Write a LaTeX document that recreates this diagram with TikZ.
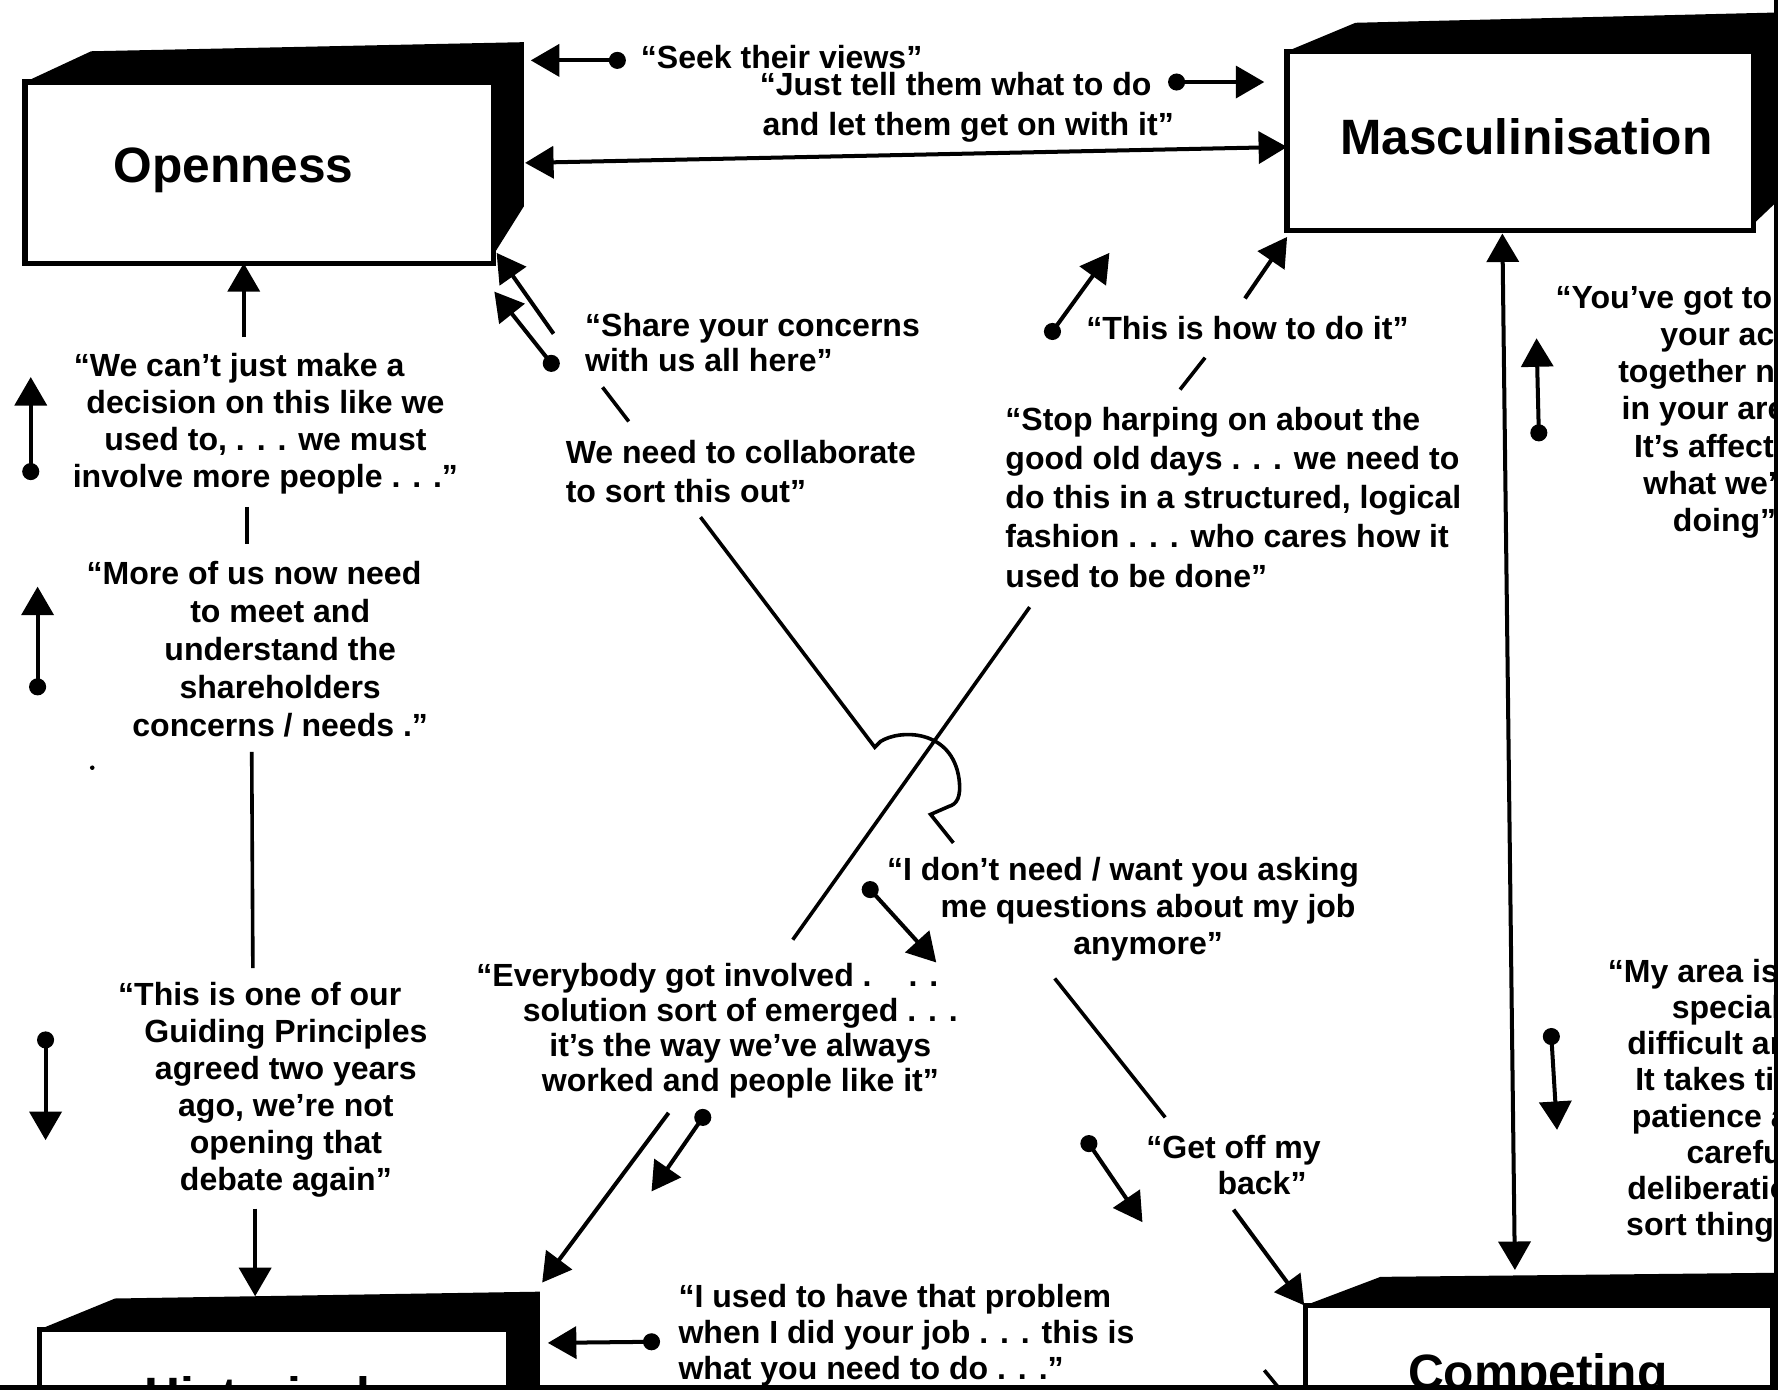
\documentclass[tikz,border=0pt]{standalone}
\usepackage{fontspec}
\setmainfont{Liberation Sans}
\usetikzlibrary{arrows.meta}
\newcommand\qf[1]{\fontsize{8}{#1}\selectfont\bfseries}
\newcommand\tf{\fontsize{12.4}{14}\selectfont\bfseries}
\newcommand\sh[1]{\hspace*{#1}}
\begin{document}
\begin{tikzpicture}[x=0.01cm,y=-0.01cm,
  face/.style={draw, line width=1.3pt, fill=white, inner sep=0pt},
  qc/.style={inner sep=0pt, align=center},
  qlt/.style={inner sep=0pt, align=left, anchor=west},
  ttl/.style={inner sep=0pt, font=\tf, anchor=base},
  ln/.style={line width=0.9pt},
  arr/.style={line width=1pt, -{Triangle[length=0.25cm,width=0.28cm]}},
  barr/.style={line width=1pt, {Triangle[length=0.25cm,width=0.28cm]}-{Triangle[length=0.25cm,width=0.28cm]}},
  framel/.style={line width=1.1pt}
]
\newcommand\dotarr[2]{\draw[arr] (#1) -- (#2); \fill (#1) circle[radius=0.075cm];}
\useasboundingbox (0,0) rectangle (1568,1220);
\begin{scope}
\clip (0,0) rectangle (1559,1218);
% ---- boxes
\fill (22,72) -- (80,45) -- (460,37) -- (460,181) -- (433,224) -- (433,72) -- cycle;
\node[face, minimum width=4.11cm, minimum height=1.59cm] (open) at (227.5,151.5) {};
\node[ttl] (openT) at (205,160) {Openness};
\fill (1130,45) -- (1190,20) -- (1600,10) -- (1600,139) -- (1539,197) -- (1539,45) -- cycle;
\node[face, minimum width=4.09cm, minimum height=1.57cm] (masc) at (1334.5,123.5) {};
\node[ttl] (mascT) at (1340,136) {Masculinisation};
\fill (35,1167) -- (101,1140) -- (474,1134) -- (474,1300) -- (446,1330) -- (446,1167) -- cycle;
\node[face, minimum width=4.11cm, minimum height=1.70cm] (hist) at (240.5,1252) {};
\node[ttl] (histT) at (226,1240) {Historical};
\fill (1146,1146) -- (1212,1121) -- (1600,1117) -- (1600,1300) -- (1556,1330) -- (1556,1146) -- cycle;
\node[face, minimum width=4.10cm, minimum height=1.84cm] (comp) at (1351,1238) {};
\node[ttl] (compT) at (1350,1220) {Competing};
% ---- texts
\node[qlt, font=\qf{9pt}] (seek) at (562,50) {“Seek their views”};
\node[qc, font=\qf{10pt}] (tell) at (850,94.5) {\sh{-0.22cm}“Just tell them what to do\\and let them get on with it”};
\node[qc, font=\qf{9.3pt}] (cant) at (233,372) {\sh{-0.46cm}“We can’t just make a\\decision on this like we\\used to, . . . we must\\involve more people . . .”};
\node[qc, font=\qf{9.5pt}] (more) at (246,570) {\sh{-0.46cm}“More of us now need\\to meet and\\understand the\\shareholders\\concerns / needs .”};
\node[qc, font=\qf{9.25pt}] (guide) at (251,957) {\sh{-0.46cm}“This is one of our\\Guiding Principles\\agreed two years\\ago, we’re not\\opening that\\debate again”};
\node[qlt, font=\qf{8.8pt}] (share) at (513,300.5) {“Share your concerns\\with us all here”};
\node[qlt, font=\qf{9.67pt}] (collab) at (496,414) {We need to collaborate\\to sort this out”};
\node[qlt, font=\qf{9pt}] (how) at (953,288) {“This is how to do it”};
\node[qlt, font=\qf{9.8pt}] (stop) at (882,436.5) {“Stop harping on about the\\good old days . . . we need to\\do this in a structured, logical\\fashion . . . who cares how it\\used to be done”};
\node[qc, font=\qf{9.25pt}] (idont) at (1008,798.5) {\sh{-0.44cm}“I don’t need / want you asking\\me questions about my job\\anymore”};
\node[qc, font=\qf{9.1pt}] (getoff) at (1108,1023) {\sh{-0.5cm}“Get off my\\back”};
\node[qc, font=\qf{8.7pt}] (every) at (650,905) {\sh{-0.58cm}“Everybody got involved .\hspace{0.22cm} . .\\solution sort of emerged . . .\\it’s the way we’ve always\\worked and people like it”};
\node[qlt, font=\qf{9pt}] (used) at (595,1172.5) {“I used to have that problem\\when I did your job . . . this is\\what you need to do . . .”};
\node[qlt, font=\qf{9.3pt}] (youve) at (1365,362) {“You’ve got to get\\\sh{0.92cm}your act\\\sh{0.55cm}together now\\\sh{0.58cm}in your area.\\\sh{0.69cm}It’s affecting\\\sh{0.77cm}what we’re\\\sh{1.03cm}doing”};
\node[qlt, font=\qf{9.05pt}] (myarea) at (1411,966.5) {“My area is\\\sh{0.56cm}special,\\\sh{0.17cm}difficult and\\\sh{0.24cm}It takes time,\\\sh{0.21cm}patience and\\\sh{0.69cm}careful\\\sh{0.17cm}deliberation to\\\sh{0.16cm}sort things out”};
% ---- coordinates
\coordinate (seekD) at (542,53); \coordinate (seekT) at (466,53);
\coordinate (tellD) at (1033,72); \coordinate (tellT) at (1110,72);
\coordinate (bigL) at (461,143); \coordinate (bigR) at (1130,129);
\coordinate (cantTop) at (214,296); \coordinate (openBot) at (214,231);
\coordinate (l1D) at (27,414); \coordinate (l1T) at (27,331);
\coordinate (l2D) at (33,603); \coordinate (l2T) at (33,515);
\coordinate (l3D) at (40,913); \coordinate (l3T) at (40,1001);
\coordinate (c1a) at (217,445); \coordinate (c1b) at (217,478);
\coordinate (c2a) at (221,660); \coordinate (c2b) at (222,850);
\coordinate (guideBot) at (224,1061); \coordinate (histTop) at (224,1138);
\coordinate (sh1S) at (486,293); \coordinate (sh1T) at (436,222);
\coordinate (sh2D) at (484,319); \coordinate (sh2T) at (434,256);
\coordinate (sh3a) at (529,340); \coordinate (sh3b) at (552,370);
\coordinate (colA) at (615,454); \coordinate (hopA) at (768,656); \coordinate (hopB) at (773,651);
\coordinate (hopR) at (842,684); \coordinate (hopC) at (833,708); \coordinate (hopD) at (817,715); \coordinate (hopE) at (837,740);
\coordinate (how1S) at (1093,262); \coordinate (how1T) at (1130,208);
\coordinate (how2D) at (924,291); \coordinate (how2T) at (974,222);
\coordinate (how3a) at (1058,314); \coordinate (how3b) at (1036,342);
\coordinate (stopA) at (904,533); \coordinate (stopB) at (696,825);
\coordinate (idD) at (764,781); \coordinate (idT) at (822,845);
\coordinate (idA) at (926,859); \coordinate (idB) at (1023,981);
\coordinate (goD) at (956,1004); \coordinate (goT) at (1003,1073);
\coordinate (goS) at (1083,1062); \coordinate (compTL) at (1145,1146);
\coordinate (evS) at (587,977); \coordinate (histTR) at (476,1126);
\coordinate (evD) at (617,981); \coordinate (evT) at (572,1046);
\coordinate (usD) at (572,1178); \coordinate (usT) at (481,1179);
\coordinate (vTop) at (1319,205); \coordinate (vBot) at (1330,1115);
\coordinate (r1D) at (1351,380); \coordinate (r1T) at (1349,297);
\coordinate (r2D) at (1362,910); \coordinate (r2T) at (1367,992);
\coordinate (cutA) at (1110,1203); \coordinate (cutB) at (1128,1225);
\coordinate (speck) at (81,674);
% ---- connectors
\dotarr{seekD}{seekT}
\dotarr{tellD}{tellT}
\draw[barr] (bigL) -- (bigR);
\draw[arr] (cantTop) -- (openBot);
\dotarr{l1D}{l1T}
\dotarr{l2D}{l2T}
\dotarr{l3D}{l3T}
\draw[ln] (c1a) -- (c1b);
\draw[ln] (c2a) -- (c2b);
\draw[arr] (guideBot) -- (histTop);
\draw[arr] (sh1S) -- (sh1T);
\dotarr{sh2D}{sh2T}
\draw[ln] (sh3a) -- (sh3b);
\draw[ln] (colA) -- (hopA) -- (hopB) .. controls (790,640) and (836,640) .. (hopR)
  .. controls (844,700) and (840,706) .. (hopC) -- (hopD) -- (hopE);
\draw[arr] (how1S) -- (how1T);
\dotarr{how2D}{how2T}
\draw[ln] (how3a) -- (how3b);
\draw[ln] (stopA) -- (stopB);
\dotarr{idD}{idT}
\draw[ln] (idA) -- (idB);
\dotarr{goD}{goT}
\draw[arr] (goS) -- (compTL);
\draw[arr] (evS) -- (histTR);
\dotarr{evD}{evT}
\dotarr{usD}{usT}
\draw[barr] (vTop) -- (vBot);
\dotarr{r1D}{r1T}
\dotarr{r2D}{r2T}
\draw[ln] (cutA) -- (cutB);
\fill (speck) circle[radius=0.02cm];
\end{scope}
\draw[framel] (1559,0) -- (1559,1218) -- (0,1218);
\end{tikzpicture}
\end{document}
